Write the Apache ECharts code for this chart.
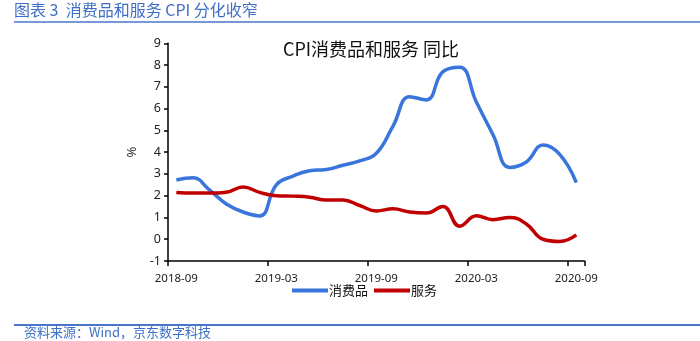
<!DOCTYPE html>
<html>
<head>
<meta charset="utf-8">
<style>
html,body{margin:0;padding:0;background:#fff;}
#chart{width:700px;height:341px;}
</style>
<script src="https://cdn.jsdelivr.net/npm/echarts@6/dist/echarts.min.js"></script>
</head>
<body>
<div id="chart"></div>
<script>
const months = ['2018-09','2018-10','2018-11','2018-12','2019-01','2019-02','2019-03','2019-04','2019-05','2019-06','2019-07','2019-08','2019-09','2019-10','2019-11','2019-12','2020-01','2020-02','2020-03','2020-04','2020-05','2020-06','2020-07','2020-08','2020-09'];
const goods =    [2.72, 2.82, 2.25, 1.62, 1.25, 1.07, 2.5, 2.9, 3.15, 3.2, 3.4, 3.6, 3.95, 5.2, 6.55, 6.4, 7.7, 7.9, 6.3, 4.8, 3.3, 3.55, 4.33, 3.9, 2.6];
const services = [2.15, 2.12, 2.12, 2.16, 2.4, 2.15, 2.0, 1.98, 1.93, 1.8, 1.8, 1.55, 1.3, 1.4, 1.25, 1.2, 1.5, 0.6, 1.08, 0.9, 1.0, 0.7, 0.0, -0.1, 0.2];
const yTicks = {min: -1, max: 9, interval: 1};

const cjk = '"Noto Sans CJK SC", "Noto Sans", sans-serif';
const chart = echarts.init(document.getElementById('chart'), null, {renderer: 'canvas'});
chart.setOption({
  animation: false,
  backgroundColor: '#ffffff',
  title: {
    text: 'CPI消费品和服务 同比',
    left: 366, textAlign: 'center', top: 35,
    textStyle: {fontFamily: cjk, fontSize: 18, fontWeight: 'normal', color: '#111'}
  },
  legend: {
    data: ['消费品', '服务'],
    left: 287, top: 279,
    icon: 'rect', itemWidth: 36, itemHeight: 4, itemGap: 6,
    textStyle: {fontFamily: cjk, fontSize: 13, color: '#111', padding: [0,0,0,-4]}
  },
  grid: {left: 168, right: 115.3, top: 43.3, bottom: 80, containLabel: false},
  xAxis: [
    {
      type: 'category', data: months, boundaryGap: true, position: 'bottom',
      axisLine: {show: false}, axisTick: {show: false},
      axisLabel: {interval: 5, margin: 12, fontFamily: '"Noto Sans", sans-serif', fontSize: 11.5, color: '#222'},
      splitLine: {show: false}
    },
    {
      type: 'category', data: months, boundaryGap: true, position: 'bottom',
      axisLine: {show: true, onZero: true, lineStyle: {color: '#000', width: 1.5}},
      axisTick: {show: true, interval: 5, length: 5, lineStyle: {color: '#000', width: 1.5}},
      axisLabel: {show: false},
      splitLine: {show: false}
    }
  ],
  yAxis: {
    type: 'value', min: yTicks.min, max: yTicks.max, interval: yTicks.interval,
    name: '%', nameLocation: 'middle', nameGap: 25, nameRotate: 90,
    nameTextStyle: {fontFamily: '"Noto Sans", sans-serif', fontSize: 13, color: '#333'},
    axisLine: {show: true, lineStyle: {color: '#000', width: 1.5}},
    axisTick: {show: true, length: 4, lineStyle: {color: '#000', width: 1.5}},
    axisLabel: {margin: 7, fontFamily: '"Noto Sans", sans-serif', fontSize: 12.5, color: '#222'},
    splitLine: {show: false}
  },
  series: [
    {
      name: '消费品', type: 'line', xAxisIndex: 1, data: goods, smooth: 0.45,
      showSymbol: false, symbol: 'none',
      lineStyle: {color: '#3a75dc', width: 3.5}, itemStyle: {color: '#3a75dc'}
    },
    {
      name: '服务', type: 'line', xAxisIndex: 1, data: services, smooth: 0.45,
      showSymbol: false, symbol: 'none',
      lineStyle: {color: '#c00000', width: 3.5}, itemStyle: {color: '#c00000'}
    }
  ],
  graphic: [
    {type: 'text', left: 14, top: 2, style: {text: '图表 3  消费品和服务 CPI 分化收窄', fontFamily: cjk, fontSize: 16, fill: '#3f6fc6'}},
    {type: 'line', shape: {x1: 14, y1: 22, x2: 700, y2: 22}, style: {stroke: '#4a76c9', lineWidth: 1.5}},
    {type: 'line', shape: {x1: 14, y1: 325, x2: 700, y2: 325}, style: {stroke: '#4a76c9', lineWidth: 2}},
    {type: 'text', left: 24, top: 326, style: {text: '资料来源：Wind，京东数字科技', fontFamily: cjk, fontSize: 13, fill: '#3f6fc6'}}
  ]
});
</script>
</body>
</html>
